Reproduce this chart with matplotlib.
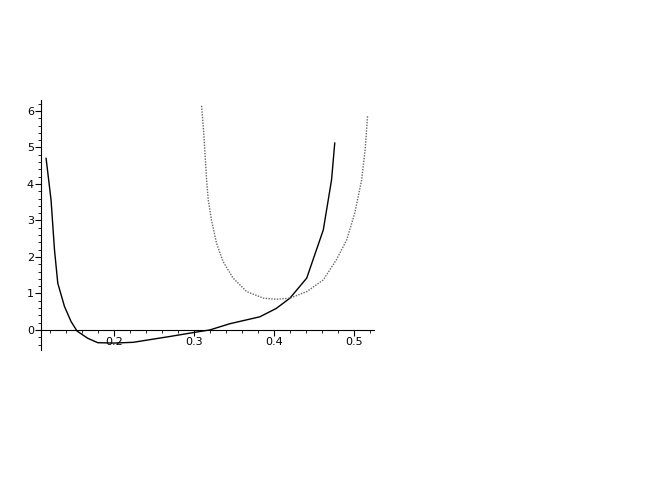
import numpy as np
import matplotlib.pyplot as plt
from matplotlib.ticker import MultipleLocator, FormatStrFormatter

# solid curve
solid_x = [0.1154, 0.1216, 0.1259, 0.130, 0.1384, 0.1466, 0.154, 0.1675, 0.180,
           0.200, 0.224, 0.270, 0.300, 0.320, 0.345, 0.3825, 0.403, 0.420,
           0.441, 0.4617, 0.472, 0.476]
solid_y = [4.70, 3.56, 2.19, 1.28, 0.64, 0.23, -0.03, -0.23, -0.35,
           -0.36, -0.34, -0.18, -0.07, 0.0, 0.17, 0.36, 0.59, 0.87,
           1.42, 2.74, 4.11, 5.12]

# dotted curve
dotted_x = [0.3096, 0.312, 0.314, 0.3159, 0.318, 0.322, 0.3284, 0.3366, 0.349,
            0.366, 0.387, 0.403, 0.420, 0.441, 0.4617, 0.478, 0.491, 0.501,
            0.5096, 0.514, 0.517]
dotted_y = [6.14, 5.50, 4.80, 4.11, 3.56, 3.01, 2.37, 1.87, 1.42,
            1.05, 0.87, 0.84, 0.87, 1.05, 1.37, 1.92, 2.47, 3.20,
            4.11, 4.95, 5.86]

x_ticks = [0.2, 0.3, 0.4, 0.5]
y_ticks = [0, 1, 2, 3, 4, 5, 6]


def main():
    fig = plt.figure(figsize=(6.64, 4.98), dpi=100)
    ax = fig.add_axes([0.0617, 0.2972, 0.5015, 0.502])

    ax.plot(solid_x, solid_y, color='black', lw=1.0)
    ax.plot(dotted_x, dotted_y, color='#666666', lw=1.0, ls=(0, (1, 1)))

    ax.set_xlim(0.109, 0.525)
    ax.set_ylim(-0.55, 6.3)

    # Maple style axes: x axis through y=0, y axis at left edge
    ax.spines['top'].set_visible(False)
    ax.spines['right'].set_visible(False)
    ax.spines['bottom'].set_position(('data', 0))
    ax.spines['bottom'].set_linewidth(0.8)
    ax.spines['left'].set_linewidth(0.8)

    ax.set_xticks(x_ticks)
    ax.set_yticks(y_ticks)
    ax.xaxis.set_major_formatter(FormatStrFormatter('%.1f'))
    ax.xaxis.set_minor_locator(MultipleLocator(0.02))
    ax.yaxis.set_minor_locator(MultipleLocator(0.2))
    ax.tick_params(which='major', length=4, width=0.8, labelsize=8, pad=1)
    ax.tick_params(which='minor', length=2, width=0.6)

    fig.savefig('out.png', dpi=100)


if __name__ == "__main__":
    main()
